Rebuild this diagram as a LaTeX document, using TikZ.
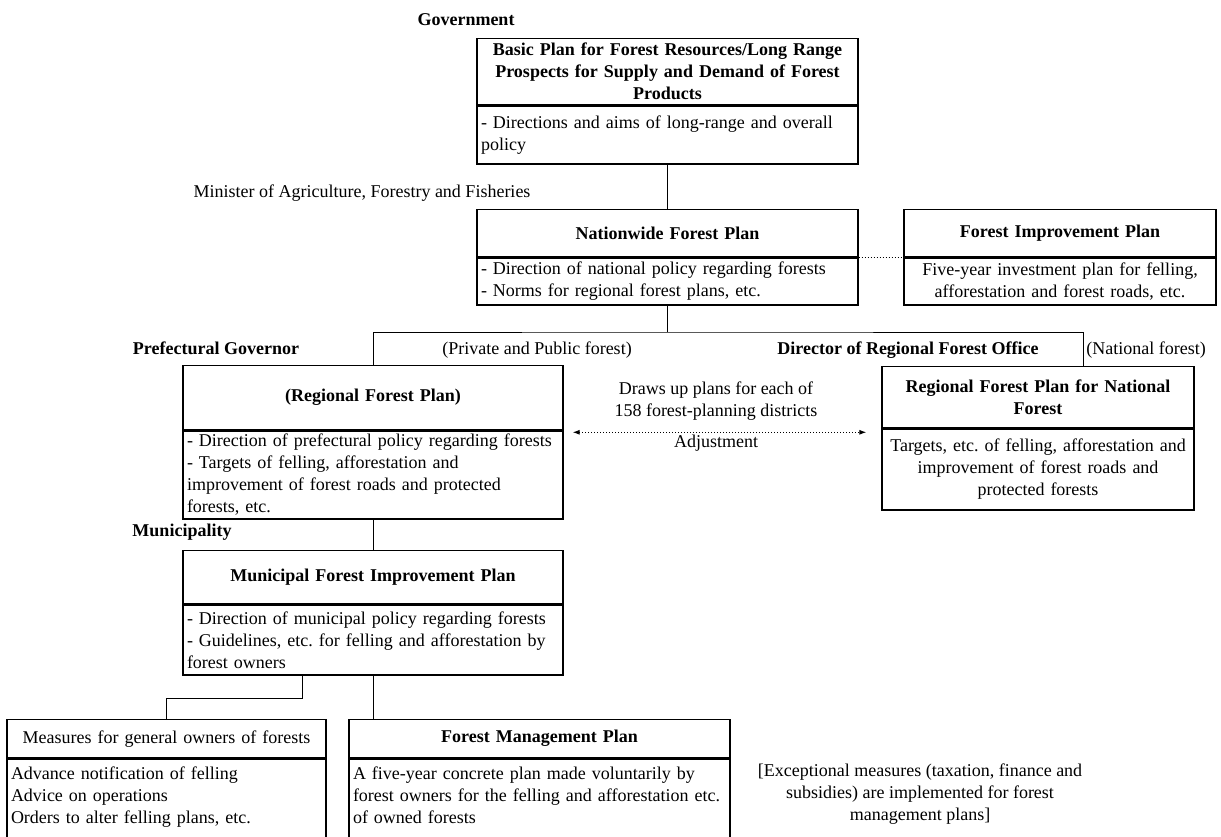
\documentclass[tikz,border=0pt]{standalone}
\usepackage{fontspec}
\setmainfont{Liberation Serif}
\newcommand{\PlanFont}{\fontsize{18}{22}\selectfont}
\frenchspacing
\usetikzlibrary{arrows.meta,positioning}

\begin{document}
\begin{tikzpicture}[
        x=1pt, y=-1pt,
        font=\PlanFont,
        planhead/.style 2 args={rectangle, draw=black, line width=1.3pt, inner xsep=4pt, inner ysep=0pt, text width=#1, minimum height=#2, align=center, font=\PlanFont\bfseries, anchor=north},
        plandesc/.style 2 args={rectangle, draw=black, line width=1.3pt, inner xsep=4pt, inner ysep=0pt, text width=#1, minimum height=#2, align=left},
        actor/.style={font=\PlanFont\bfseries, inner sep=0pt},
        remark/.style={inner sep=0pt, align=center},
        link/.style={line width=1pt},
        adjust/.style={{Latex[length=7pt,width=5pt]}-{Latex[length=7pt,width=5pt]}, dotted, line width=1pt},
    ]
    \useasboundingbox (0,0) rectangle (1221,837);
    \clip (0,0) rectangle (1221,837);

    % Government level
    \node[actor] (gov) at (466,20) {Government};
    \node[planhead={373pt}{66pt}] (basic) at (667.5,38) {Basic Plan for Forest Resources/Long Range\\Prospects for Supply and Demand of Forest\\Products};
    \node[plandesc={373pt}{58pt}, below=0pt of basic] (basicd) {- Directions and aims of long-range and overall\\policy};

    % Minister level
    \node[remark] (minister) at (362,193) {Minister of Agriculture, Forestry and Fisheries};
    \node[planhead={373pt}{47pt}] (nation) at (667.5,209) {Nationwide Forest Plan};
    \node[plandesc={373pt}{47pt}, below=0pt of nation] (nationd) {- Direction of national policy regarding forests\\- Norms for regional forest plans, etc.};
    \node[planhead={304pt}{47pt}] (improve) at (1060,209) {Forest Improvement Plan};
    \node[plandesc={304pt}{47pt}, align=center, below=0pt of improve] (improved) {Five-year investment plan for felling,\\afforestation and forest roads, etc.};

    \draw[link] (basicd.south) -- (nation.north);
    \draw[link, dotted] (nation.south east) -- (improve.south west);

    % Regional level
    \node[actor] (pref) at (216,348) {Prefectural Governor};
    \node[remark] (private) at (537,350) {(Private and Public forest)};
    \node[actor] (director) at (908,350) {Director of Regional Forest Office};
    \node[remark] (national) at (1146,350) {(National forest)};

    \node[planhead={372pt}{64pt}] (region) at (373,365) {(Regional Forest Plan)};
    \node[plandesc={372pt}{88pt}, below=0pt of region] (regiond) {- Direction of prefectural policy regarding forests\\- Targets of felling, afforestation and\\improvement of forest roads and protected\\forests, etc.};
    \node[planhead={304pt}{61pt}] (natl) at (1038,366) {Regional Forest Plan for National\\Forest};
    \node[plandesc={304pt}{81pt}, align=center, below=0pt of natl] (natld) {Targets, etc. of felling, afforestation and\\improvement of forest roads and\\protected forests};

    \coordinate (fork) at (667.5,332);
    \coordinate (natlink) at (1083,366);
    \draw[link] (nationd.south) -- (fork);
    \draw[link] (region.north) |- (fork) -| (natlink);

    \draw[adjust] ([xshift=9pt,yshift=-2pt]regiond.north east) -- ([xshift=-15pt,yshift=-2pt]regiond.north east -| natld.west);
    \node[remark] (draws) at (716,401) {Draws up plans for each of\\158 forest-planning districts};
    \node[remark] (adjustment) at (716,443) {Adjustment};

    % Municipal level
    \node[actor] (munilabel) at (182,532) {Municipality};
    \node[planhead={372pt}{53pt}] (muni) at (373,550) {Municipal Forest Improvement Plan};
    \node[plandesc={372pt}{70pt}, below=0pt of muni] (munid) {- Direction of municipal policy regarding forests\\- Guidelines, etc. for felling and afforestation by\\forest owners};
    \draw[link] (regiond.south) -- (muni.north);

    % Forest owners
    \node[planhead={311pt}{38pt}, font=\PlanFont] (owners) at (166.5,719) {Measures for general owners of forests};
    \node[plandesc={311pt}{10pt}, inner ysep=8pt, text depth=70pt, below=0pt of owners] (ownersd) {Advance notification of felling\\Advice on operations\\Orders to alter felling plans, etc.};
    \node[planhead={373pt}{38pt}] (mgmt) at (539.5,719) {Forest Management Plan};
    \node[plandesc={373pt}{10pt}, inner ysep=8pt, text depth=70pt, below=0pt of mgmt] (mgmtd) {A five-year concrete plan made voluntarily by\\forest owners for the felling and afforestation etc.\\of owned forests};

    \draw[link] ([xshift=-71pt]munid.south) -- ++(0,23) -| (owners.north);
    \draw[link] (munid.south) -- (munid.south |- mgmt.north);

    \node[remark] (exception) at (920,794) {[Exceptional measures (taxation, finance and\\subsidies) are implemented for forest\\management plans]};
\end{tikzpicture}
\end{document}
